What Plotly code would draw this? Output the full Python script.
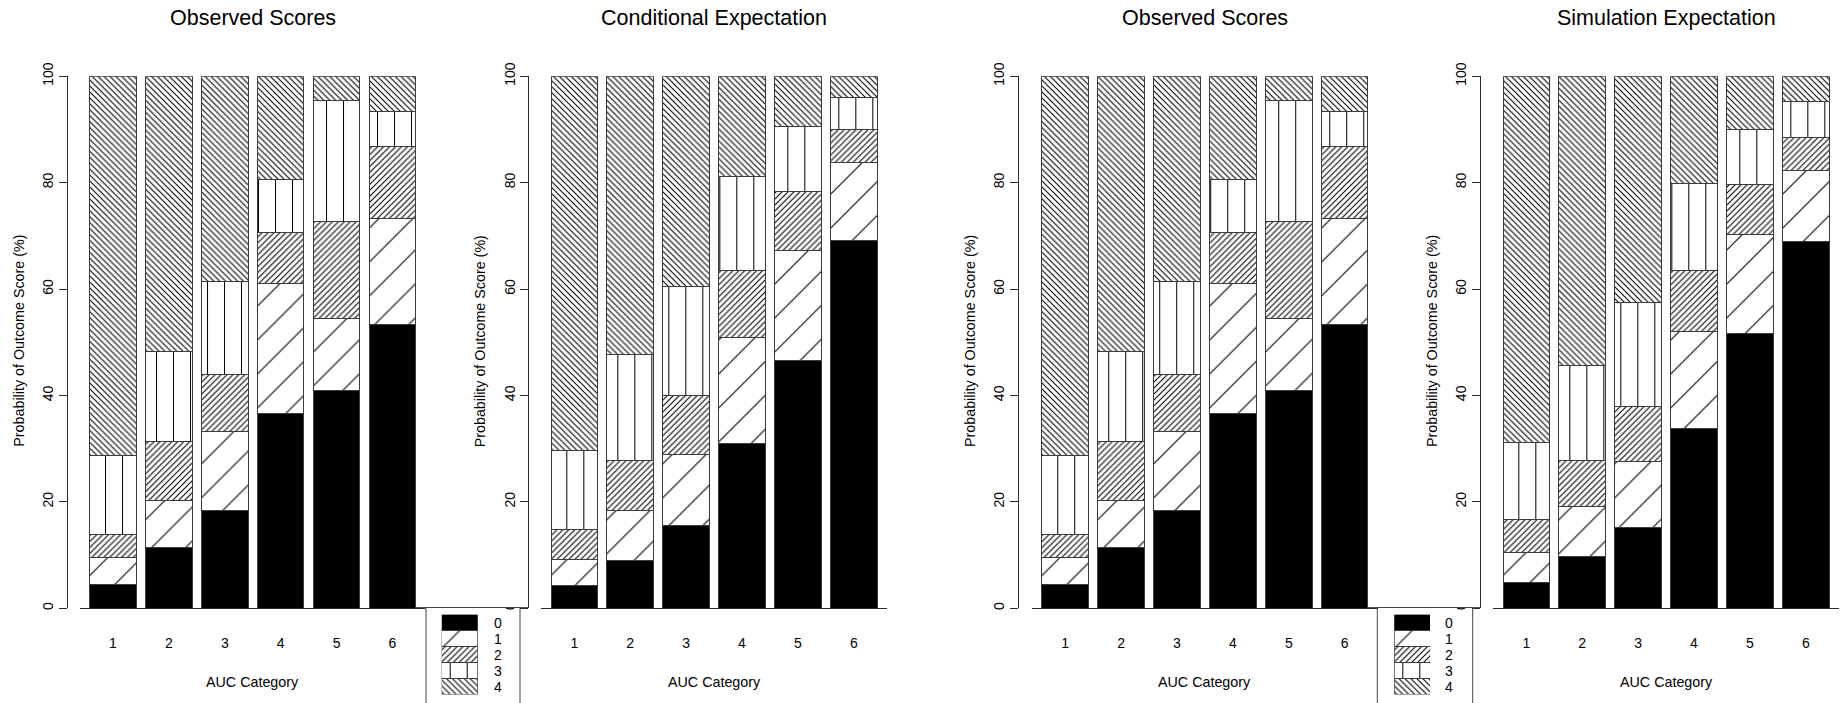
import plotly.graph_objects as go

W, H = 1843, 703

# ---- data -----------------------------------------------------------------
auc_categories = ["1", "2", "3", "4", "5", "6"]
score_levels = ["0", "1", "2", "3", "4"]
panel_titles = ["Observed Scores", "Conditional Expectation",
                "Observed Scores", "Simulation Expectation"]
x_title = "AUC Category"
y_title = "Probability of Outcome Score (%)"
y_ticks = [0, 20, 40, 60, 80, 100]

# percentage of patients with each outcome score, per AUC category
observed_0 = [4.5, 11.5, 18.3, 36.6, 40.9, 53.3]
observed_1 = [5.0, 8.8, 15.0, 24.4, 13.6, 20.0]
observed_2 = [4.4, 11.0, 10.6, 9.7, 18.2, 13.4]
observed_3 = [14.8, 17.0, 17.6, 9.8, 22.8, 6.6]
observed_4 = [71.3, 51.7, 38.5, 19.5, 4.5, 6.7]

conditional_0 = [4.2, 8.9, 15.5, 31.0, 46.6, 69.2]
conditional_1 = [5.0, 9.5, 13.4, 19.8, 20.6, 14.6]
conditional_2 = [5.7, 9.3, 11.1, 12.7, 11.2, 6.2]
conditional_3 = [14.8, 20.0, 20.5, 17.7, 12.2, 6.0]
conditional_4 = [70.3, 52.3, 39.5, 18.8, 9.4, 4.0]

simulation_0 = [4.9, 9.8, 15.2, 33.8, 51.7, 69.0]
simulation_1 = [5.6, 9.3, 12.4, 18.3, 18.6, 13.3]
simulation_2 = [6.1, 8.7, 10.4, 11.4, 9.4, 6.2]
simulation_3 = [14.5, 17.9, 19.5, 16.3, 10.3, 6.8]
simulation_4 = [68.9, 54.3, 42.5, 20.2, 10.0, 4.7]

observed = [observed_0, observed_1, observed_2, observed_3, observed_4]
conditional = [conditional_0, conditional_1, conditional_2, conditional_3, conditional_4]
simulation = [simulation_0, simulation_1, simulation_2, simulation_3, simulation_4]
panel_data = [observed, conditional, observed, simulation]

# ---- styling --------------------------------------------------------------
FONT = "Liberation Sans, Arial, Helvetica, sans-serif"
AX = "#2b2b2b"
EDGE = "#3c3c3c"

# hatch style per outcome score: (shape, tile size px, solidity)
HATCH = [
    None,
    ("/", 24, 0.045),
    ("/", 4.2, 0.26),
    ("|", 17, 0.06),
    ("\\", 4.2, 0.26),
]


def marker_for(level):
    h = HATCH[level]
    if h is None:
        return dict(color="black", line=dict(color=EDGE, width=1))
    shape, size, solidity = h
    return dict(
        color="white",
        line=dict(color=EDGE, width=1),
        pattern=dict(shape=shape, size=size, solidity=solidity,
                     fgcolor="black", bgcolor="white", fillmode="replace"),
    )


def fx(px):
    return px / W


def fy(py):
    return 1 - py / H


# ---- geometry (pixels) ----------------------------------------------------
PITCH = 55.9
first_bar_px = [113.0, 574.3, 1065.2, 1526.3]
yaxis_px = [66.7, 528.3, 1018.0, 1480.0]
Y_TOP, Y_BOT = 76.2, 608.3
X_RANGE = [0.41, 6.59]
positions = list(range(1, len(auc_categories) + 1))

fig = go.Figure()
layout = dict(
    width=W, height=H,
    margin=dict(l=0, r=0, t=0, b=0, pad=0, autoexpand=False),
    paper_bgcolor="white", plot_bgcolor="rgba(0,0,0,0)",
    barmode="stack", showlegend=False,
    font=dict(family=FONT, color="black", size=14),
)
annotations = []
shapes = []

for p in range(4):
    n = p + 1
    xa = "x" if n == 1 else f"x{n}"
    ya = "y" if n == 1 else f"y{n}"
    for level, values in enumerate(panel_data[p]):
        fig.add_trace(go.Bar(
            x=positions, y=values, width=1 / 1.2,
            marker=marker_for(level), xaxis=xa, yaxis=ya,
            hoverinfo="skip",
        ))
    c1 = first_bar_px[p]
    layout["xaxis" if n == 1 else f"xaxis{n}"] = dict(
        domain=[fx(c1 - 0.59 * PITCH), fx(c1 + 5.59 * PITCH)],
        range=X_RANGE, anchor=ya,
        showline=True, linecolor=AX, linewidth=1,
        ticks="", tickvals=positions, ticktext=auc_categories,
        ticklabelstandoff=22, tickfont=dict(size=14),
        showgrid=False, zeroline=False, fixedrange=True, automargin=False,
    )
    layout["yaxis" if n == 1 else f"yaxis{n}"] = dict(
        domain=[fy(Y_BOT), fy(Y_TOP)], range=[0, 100],
        anchor="free", position=fx(yaxis_px[p]),
        showline=True, linecolor=AX, linewidth=1,
        ticks="outside", ticklen=8, tickwidth=1, tickcolor=AX,
        tickvals=y_ticks, ticktext=[str(v) for v in y_ticks],
        tickangle=-90, tickfont=dict(size=14),
        showgrid=False, zeroline=False, fixedrange=True, automargin=False,
    )
    mid = c1 + 2.5 * PITCH
    annotations.append(dict(text=panel_titles[p], x=fx(mid), y=fy(18.5),
                            xref="paper", yref="paper", showarrow=False,
                            xanchor="center", yanchor="middle",
                            font=dict(size=21.5)))
    annotations.append(dict(text=x_title, x=fx(mid), y=fy(682),
                            xref="paper", yref="paper", showarrow=False,
                            xanchor="center", yanchor="middle",
                            font=dict(size=14.3)))
    annotations.append(dict(text=y_title, x=fx(yaxis_px[p] - 48), y=fy(341),
                            xref="paper", yref="paper", showarrow=False,
                            xanchor="center", yanchor="middle", textangle=-90,
                            font=dict(size=14.3)))

# ---- score legends below the right edge of the 1st and 3rd panels ----------
legend_specs = [
    # frame left/right, swatch left/right, label centre, white patch left/right
    (426.0, 520.0, 441.7, 477.7, 497.7, 417.0, 527.6),
    (1377.3, 1472.7, 1394.3, 1430.0, 1449.3, 1368.8, 1479.3),
]
for k, (fl, fr, sl, sr, lc, wl, wr) in enumerate(legend_specs):
    n = 5 + k
    xa, ya = f"x{n}", f"y{n}"
    for level in range(len(score_levels)):
        fig.add_trace(go.Bar(
            x=[1], y=[level], base=0, orientation="h", width=0.94,
            marker=marker_for(level), xaxis=xa, yaxis=ya, hoverinfo="skip",
        ))
        annotations.append(dict(text=score_levels[level], x=fx(lc), y=level,
                                xref="paper", yref=ya, showarrow=False,
                                xanchor="center", yanchor="middle",
                                font=dict(size=14)))
    layout[f"xaxis{n}"] = dict(domain=[fx(sl), fx(sr)], range=[0, 1],
                               anchor=ya, visible=False, fixedrange=True)
    layout[f"yaxis{n}"] = dict(domain=[fy(694.5), fy(614.5)], range=[4.5, -0.5],
                               anchor=xa, visible=False, fixedrange=True)
    # white patch that masks the baseline end and the neighbour's "0" label
    shapes.append(dict(type="rect", xref="paper", yref="paper",
                       x0=fx(wl), x1=fx(wr), y0=fy(607.5), y1=fy(588),
                       fillcolor="white", line=dict(width=0), layer="above"))
    shapes.append(dict(type="line", xref="paper", yref="paper",
                       x0=fx(wl - 1), x1=fx(wr + 1), y0=fy(607.5), y1=fy(607.5),
                       line=dict(color="#555555", width=1), layer="above"))
    # legend frame running off the bottom edge
    shapes.append(dict(type="rect", xref="paper", yref="paper",
                       x0=fx(fl), x1=fx(fr), y0=fy(720), y1=fy(607.5),
                       fillcolor="rgba(0,0,0,0)",
                       line=dict(color="#444444", width=1), layer="above"))

layout["annotations"] = annotations
layout["shapes"] = shapes
fig.update_layout(**layout)

fig.write_html("out.html", config={"displayModeBar": False})
